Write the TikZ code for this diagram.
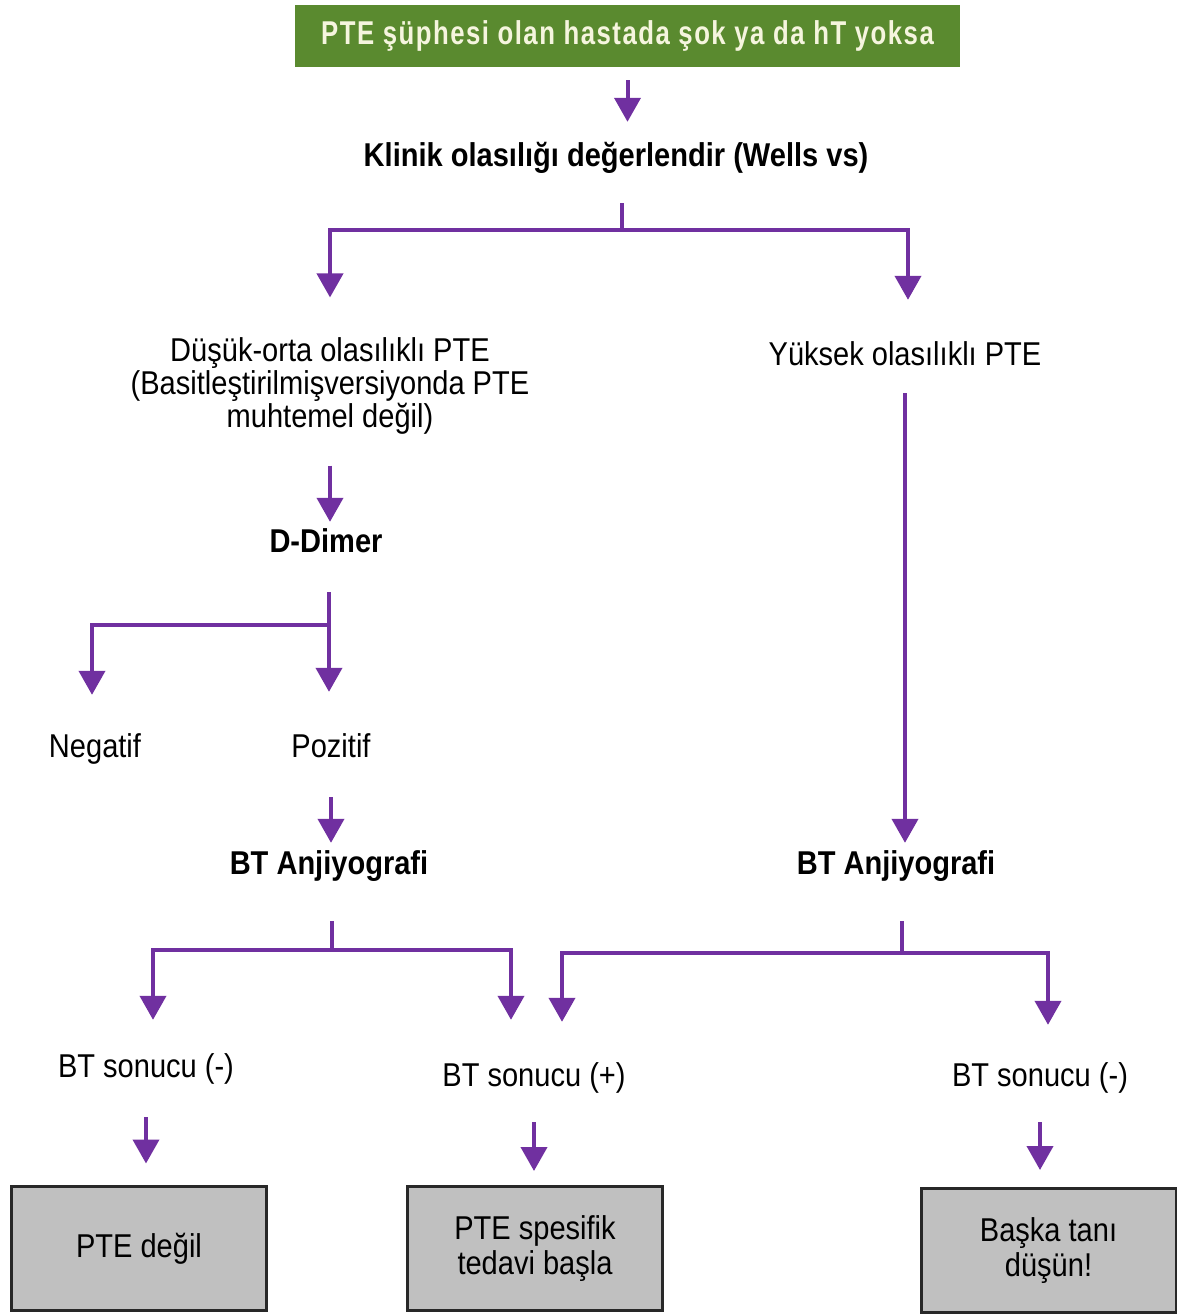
\documentclass[tikz,border=0pt]{standalone}
\usepackage{fontspec}
\setmainfont{Liberation Sans}[FakeStretch=0.88]
\newfontfamily\headfont{Liberation Sans}[FakeStretch=0.78,LetterSpace=4.5]
\usepackage{xcolor}
\usetikzlibrary{arrows.meta}
\definecolor{headgreen}{RGB}{90,138,47}
\definecolor{headtext}{RGB}{245,245,222}
\definecolor{flowpurple}{RGB}{112,48,160}
\definecolor{boxgray}{RGB}{192,192,192}
\definecolor{boxedge}{RGB}{40,40,40}
\tikzset{
  flow/.style={line width=4pt, draw=flowpurple, arrows = {-Triangle[width=26pt, length=24pt]}},
  link/.style={line width=4pt, draw=flowpurple},
  lbl/.style={inner sep=0pt, text height=23pt, text depth=0pt},
  lblb/.style={lbl, font=\fontsize{33pt}{33pt}\selectfont\bfseries},
  headbox/.style={fill=headgreen, text=headtext, minimum width=665pt, minimum height=62pt, inner sep=0pt,
    font=\fontsize{33pt}{33pt}\headfont\bfseries},
  endbox/.style={draw=boxedge, line width=3pt, fill=boxgray, minimum width=255pt, minimum height=124pt,
    align=center, inner sep=4pt, font=\fontsize{33pt}{35pt}\selectfont},
}

\begin{document}
\begin{tikzpicture}[x=1pt, y=-1pt, font=\fontsize{33pt}{33pt}\selectfont]
    \useasboundingbox (0,0) rectangle (1177,1315);
    % Nodes
    \node[headbox] (head) at (627.5,36) {PTE şüphesi olan hastada şok ya da hT yoksa};
    \node[lblb] (klinik) at (616,155) {Klinik olasılığı değerlendir (Wells vs)};
    \node[inner sep=0pt, align=center] (dusuk) at (330,386) {Düşük-orta olasılıklı PTE\\(Basitleştirilmişversiyonda PTE\\muhtemel değil)};
    \node[lbl] (yuksek) at (905,354) {Yüksek olasılıklı PTE};
    \node[lblb] (ddimer) at (326,541) {D-Dimer};
    \node[lbl] (neg) at (95,746) {Negatif};
    \node[lbl] (poz) at (331,746) {Pozitif};
    \node[lblb] (btl) at (329,863) {BT Anjiyografi};
    \node[lblb] (btr) at (896,863) {BT Anjiyografi};
    \node[lbl] (sonl) at (146,1066) {BT sonucu (-)};
    \node[lbl] (sonp) at (534,1075) {BT sonucu (+)};
    \node[lbl] (sonr) at (1040,1075) {BT sonucu (-)};
    \node[endbox] (degil) at (139,1248.5) {PTE değil};
    \node[endbox] (tedavi) at (535,1248.5) {PTE spesifik\\tedavi başla};
    \node[endbox] (baska) at (1048.5,1250.5) {Başka tanı\\düşün!};
    % Junctions
    \coordinate (kb) at (622,230);
    \coordinate (db) at (329,625);
    \coordinate (lb) at (332,950);
    \coordinate (rb) at (902,953);
    % Arrows
    \draw[flow, shorten <=13pt, shorten >=21.5pt] (head.south) -- (head.south |- klinik.north);
    \draw[link, shorten <=36.5pt] (kb |- klinik.south) -- (kb);
    \draw[flow, shorten >=40pt] (kb) -| (dusuk.north);
    \draw[flow, shorten >=42.5pt] (kb) -| ([xshift=3pt]yuksek.north);
    \draw[flow, shorten <=27.5pt, shorten >=8.5pt] (yuksek.south) -- (yuksek.south |- btr.north);
    \draw[flow, shorten <=31pt, shorten >=7.5pt] (dusuk.south) -- (dusuk.south |- ddimer.north);
    \draw[link, shorten <=39.5pt] (db |- ddimer.south) -- (db);
    \draw[flow, shorten >=39.5pt] (db) -| ([xshift=-3pt]neg.north);
    \draw[flow, shorten >=42.5pt] (db) -- (db |- poz.north);
    \draw[flow, shorten <=39.5pt, shorten >=8.5pt] (poz.south) -- (poz.south |- btl.north);
    \draw[link, shorten <=46.5pt] (lb |- btl.south) -- (lb);
    \draw[flow, shorten >=34.5pt] (lb) -| ([xshift=7pt]sonl.north);
    \draw[flow, shorten >=43.5pt] (lb) -| ([xshift=-23pt]sonp.north);
    \draw[link, shorten <=46.5pt] (rb |- btr.south) -- (rb);
    \draw[flow, shorten >=41.5pt] (rb) -| ([xshift=28pt]sonp.north);
    \draw[flow, shorten >=38.5pt] (rb) -| ([xshift=8pt]sonr.north);
    \draw[flow, shorten <=39.5pt, shorten >=21.5pt] (sonl.south) -- (sonl.south |- degil.north);
    \draw[flow, shorten <=35.5pt, shorten >=14pt] (sonp.south) -- (sonp.south |- tedavi.north);
    \draw[flow, shorten <=35.5pt, shorten >=17pt] (sonr.south) -- (sonr.south |- baska.north);
\end{tikzpicture}
\end{document}
